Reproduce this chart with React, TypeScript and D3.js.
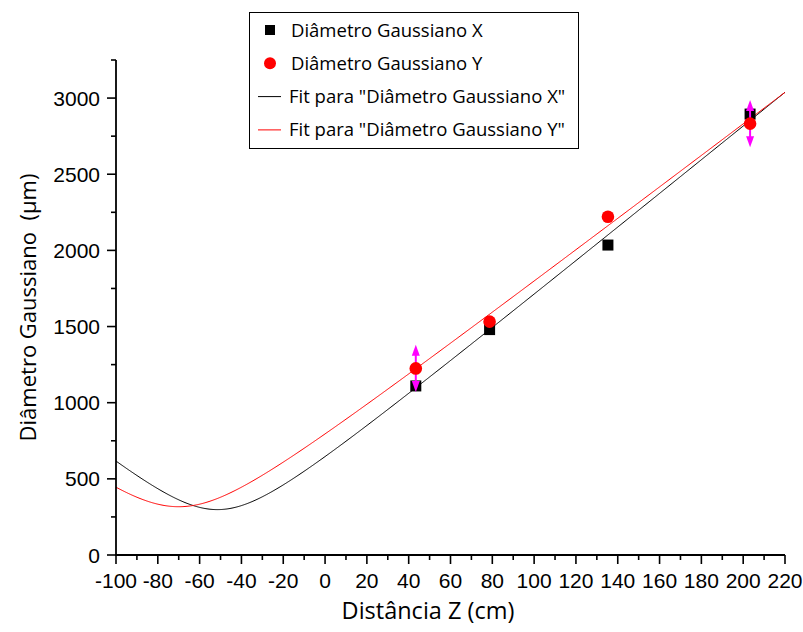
import React from "react";
import * as d3 from "d3";

// ---- data ----
const zX = [43.4, 78.7, 135.3, 203.3];
const diamX = [1110, 1480, 2035, 2895];
const zY = [43.4, 78.7, 135.3, 203.3];
const diamY = [1225, 1532, 2221, 2832];
const errY = [155, 0, 0, 155];

// Gaussian-beam fit parameters: w(z) = w0 * sqrt(1 + ((z - z0)/zR)^2)
const fitXParams = { w0: 298, z0: -51.5, zR: 26.76 };
const fitYParams = { w0: 317, z0: -70, zR: 30.43 };

const xTicks = [-100, -80, -60, -40, -20, 0, 20, 40, 60, 80, 100, 120, 140, 160, 180, 200, 220];
const yTicks = [0, 500, 1000, 1500, 2000, 2500, 3000];

const legendLabels = [
  "Diâmetro Gaussiano X",
  "Diâmetro Gaussiano Y",
  'Fit para "Diâmetro Gaussiano X"',
  'Fit para "Diâmetro Gaussiano Y"',
];

const W = 803;
const H = 632;
const left = 116;
const right = 785;
const top = 60;
const bottom = 555;

export default function App() {
  const x = d3.scaleLinear().domain([-100, 220]).range([left, right]);
  const y = d3.scaleLinear().domain([0, 3250]).range([bottom, top]);

  const fit = (p: { w0: number; z0: number; zR: number }) => (z: number) =>
    p.w0 * Math.sqrt(1 + ((z - p.z0) / p.zR) ** 2);
  const zs = d3.range(-100, 220.001, 0.5);
  const fx = fit(fitXParams);
  const fy = fit(fitYParams);
  const pathX = d3.line<number>().x((z) => x(z)).y((z) => y(fx(z)))(zs) || "";
  const pathY = d3.line<number>().x((z) => x(z)).y((z) => y(fy(z)))(zs) || "";

  const xMinor = d3.range(-90, 220, 20);
  const yMinor = d3.range(250, 3251, 500);

  const tickFont = "'Liberation Sans', Arial, sans-serif";
  const textFont = "'Open Sans', 'Noto Sans', sans-serif";

  const arrow = (cx: number, tipY: number, dir: number) => {
    const h = 11;
    const hw = 4;
    return `M${cx},${tipY} L${cx - hw},${tipY - dir * h} L${cx + hw},${tipY - dir * h} Z`;
  };

  const sq = 11;
  const r = 6.3;

  return (
    <svg
      width={W}
      height={H}
      style={{ position: "absolute", left: 0, top: 0, background: "#fff" }}
    >
      <rect x={0} y={0} width={W} height={H} fill="#fff" />
      {/* fit curves */}
      <path d={pathX} fill="none" stroke="#000" strokeWidth={1} />
      <path d={pathY} fill="none" stroke="#ff0000" strokeWidth={1} />

      {/* squares */}
      {zX.map((z, i) => (
        <rect
          key={"sq" + i}
          x={x(z) - sq / 2}
          y={y(diamX[i]) - sq / 2}
          width={sq}
          height={sq}
          fill="#000"
        />
      ))}

      {/* error bars */}
      {zY.map((z, i) =>
        errY[i] > 0 ? (
          <g key={"eb" + i} fill="#ff00ff" stroke="none">
            <line
              x1={x(z)}
              x2={x(z)}
              y1={y(diamY[i] + errY[i]) + 6}
              y2={y(diamY[i] - errY[i]) - 6}
              stroke="#ff00ff"
              strokeWidth={2}
            />
            <path d={arrow(x(z), y(diamY[i] + errY[i]), -1)} />
            <path d={arrow(x(z), y(diamY[i] - errY[i]), 1)} />
          </g>
        ) : null
      )}

      {/* circles */}
      {zY.map((z, i) => (
        <circle key={"c" + i} cx={x(z)} cy={y(diamY[i])} r={r} fill="#ff0000" />
      ))}

      {/* axes */}
      <line x1={left} x2={left} y1={top} y2={bottom} stroke="#000" strokeWidth={1.8} />
      <line x1={left - 1} x2={right} y1={bottom} y2={bottom} stroke="#000" strokeWidth={1.8} />
      {xTicks.map((t) => (
        <g key={"xt" + t}>
          <line x1={x(t)} x2={x(t)} y1={bottom} y2={bottom + 9} stroke="#000" strokeWidth={1.6} />
          <text
            x={x(t)}
            y={588}
            textAnchor="middle"
            fontFamily={tickFont}
            fontSize={21}
            fill="#000"
          >
            {t}
          </text>
        </g>
      ))}
      {xMinor.map((t) => (
        <line key={"xm" + t} x1={x(t)} x2={x(t)} y1={bottom} y2={bottom + 5} stroke="#000" strokeWidth={1.6} />
      ))}
      {yTicks.map((t) => (
        <g key={"yt" + t}>
          <line x1={left - 9} x2={left} y1={y(t)} y2={y(t)} stroke="#000" strokeWidth={1.6} />
          <text
            x={100}
            y={y(t) + 7.5}
            textAnchor="end"
            fontFamily={tickFont}
            fontSize={21}
            fill="#000"
          >
            {t}
          </text>
        </g>
      ))}
      {yMinor.map((t) => (
        <line key={"ym" + t} x1={left - 5} x2={left} y1={y(t)} y2={y(t)} stroke="#000" strokeWidth={1.6} />
      ))}

      {/* axis titles */}
      <text
        x={428}
        y={619}
        textAnchor="middle"
        fontFamily={textFont}
        fontSize={23.5}
        fill="#000"
      >
        Distância Z (cm)
      </text>
      <text
        transform={`translate(36, ${(top + bottom) / 2}) rotate(-90)`}
        textAnchor="middle"
        fontFamily={textFont}
        fontSize={22}
        fill="#000"
        style={{ whiteSpace: "pre" }}
      >
        {"Diâmetro Gaussiano  (µm)"}
      </text>

      {/* legend */}
      <rect x={249.5} y={12.5} width={329} height={136} fill="#fff" stroke="#000" strokeWidth={1} />
      {legendLabels.map((lab, i) => {
        const cy = 30 + i * 33.3;
        return (
          <g key={"lg" + i}>
            {i === 0 && <rect x={270 - 5} y={cy - 5} width={10} height={10} fill="#000" />}
            {i === 1 && <circle cx={270} cy={cy} r={6} fill="#ff0000" />}
            {i === 2 && <line x1={258} x2={281} y1={cy} y2={cy} stroke="#000" strokeWidth={1} />}
            {i === 3 && <line x1={258} x2={281} y1={cy} y2={cy} stroke="#ff0000" strokeWidth={1} />}
            <text
              x={i < 2 ? 291 : 289}
              y={cy + 6.5}
              fontFamily={textFont}
              fontSize={18.5}
              fill="#000"
            >
              {lab}
            </text>
          </g>
        );
      })}
    </svg>
  );
}
